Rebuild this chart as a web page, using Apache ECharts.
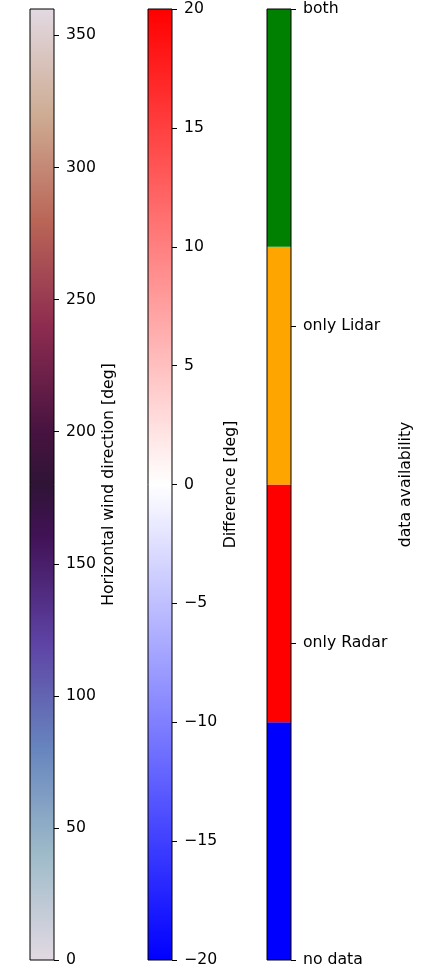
<!DOCTYPE html>
<html>
<head>
<meta charset="utf-8">
<script src="https://cdn.jsdelivr.net/npm/echarts@6/dist/echarts.min.js"></script>
<style>
  html, body { margin: 0; padding: 0; background: #fff; }
  #chart { width: 434px; height: 970px; }
</style>
</head>
<body>
<div id="chart"></div>
<script>
// Wind direction colorbar (twilight colormap), degrees
const dirRange = [0, 360];
const dirTicks = [0, 50, 100, 150, 200, 250, 300, 350];
const dirName = 'Horizontal wind direction [deg]';

// Difference colorbar (bwr colormap), degrees
const diffRange = [-20, 20];
const diffTicks = [-20, -15, -10, -5, 0, 5, 10, 15, 20];
const diffName = 'Difference [deg]';

// Data availability colorbar: discrete classes
const availCategories = ['no data', 'only Radar', 'only Lidar', 'both'];
const availTicks = [0, 1, 2, 3];
const availColors = ['#0000ff', '#ff0000', '#ffa500', '#008000'];
const availBinSize = [0.75, 0.75, 0.75, 0.75];
const availName = 'data availability';

// twilight colormap stops (position 0..1 -> colour)
const twilightStops = [
  [0.000, '#e2d9e2'],
  [0.111, '#9ebbc9'],
  [0.222, '#6785be'],
  [0.333, '#5e43a5'],
  [0.444, '#421257'],
  [0.500, '#2f1436'],
  [0.556, '#471340'],
  [0.667, '#8e2c50'],
  [0.778, '#ba6657'],
  [0.889, '#ceac94'],
  [1.000, '#e2d9e2']
];

const chart = echarts.init(document.getElementById('chart'), null, { renderer: 'canvas' });

const FONT = 'DejaVu Sans';
const labelStyle = { color: '#000', fontSize: 15.7, fontFamily: FONT };

function frameGrid(left) {
  return {
    left: left, width: 24, top: 9, bottom: 10,
    show: true, borderColor: '#000', borderWidth: 1,
    backgroundColor: 'transparent', z: 5
  };
}

function catAxis(idx) {
  return {
    type: 'category', gridIndex: idx, data: ['bar'],
    show: false, boundaryGap: true
  };
}

function valAxis(idx, range, ticks, name, gap, fmt) {
  return {
    type: 'value', gridIndex: idx, position: 'right',
    min: range[0], max: range[1],
    axisLine: { show: false },
    axisTick: { show: true, length: 5, customValues: ticks,
      lineStyle: { color: '#000', width: 1 } },
    axisLabel: Object.assign({ margin: 12, formatter: fmt, customValues: ticks }, labelStyle),
    splitLine: { show: false },
    name: name, nameLocation: 'middle', nameRotate: 90, nameGap: gap,
    nameTextStyle: labelStyle
  };
}

const minusFmt = v => String(v).replace('-', '\u2212');

const series = [];

// twilight gradient bar spanning the full direction range
series.push({
  type: 'bar', xAxisIndex: 0, yAxisIndex: 0, barWidth: '100%',
  silent: true, z: 2,
  data: [dirRange[1] - dirRange[0]],
  itemStyle: {
    color: new echarts.graphic.LinearGradient(0, 1, 0, 0,
      twilightStops.map(s => ({ offset: s[0], color: s[1] })))
  }
});

// bwr: positive half (white -> red) and negative half (white -> blue)
series.push({
  type: 'bar', xAxisIndex: 1, yAxisIndex: 1, barWidth: '100%', barGap: '-100%',
  silent: true, z: 2,
  data: [diffRange[1]],
  itemStyle: {
    color: new echarts.graphic.LinearGradient(0, 1, 0, 0,
      [{ offset: 0, color: '#ffffff' }, { offset: 1, color: '#ff0000' }])
  }
});
series.push({
  type: 'bar', xAxisIndex: 1, yAxisIndex: 1, barWidth: '100%', barGap: '-100%',
  silent: true, z: 2,
  data: [diffRange[0]],
  itemStyle: {
    color: new echarts.graphic.LinearGradient(0, 0, 0, 1,
      [{ offset: 0, color: '#ffffff' }, { offset: 1, color: '#0000ff' }])
  }
});

// discrete availability classes, stacked
availCategories.forEach((c, i) => {
  series.push({
    type: 'bar', name: c, xAxisIndex: 2, yAxisIndex: 2, barWidth: '100%',
    stack: 'avail', silent: true, z: 2,
    data: [availBinSize[i]],
    itemStyle: { color: availColors[i] }
  });
});

chart.setOption({
  animation: false,
  backgroundColor: '#fff',
  textStyle: { fontFamily: FONT },
  grid: [frameGrid(30), frameGrid(148), frameGrid(267)],
  xAxis: [catAxis(0), catAxis(1), catAxis(2)],
  yAxis: [
    valAxis(0, dirRange, dirTicks, dirName, 47, v => String(v)),
    valAxis(1, diffRange, diffTicks, diffName, 51, minusFmt),
    valAxis(2, [availTicks[0], availTicks[availTicks.length - 1]], availTicks, availName, 107,
      v => availCategories[availTicks.indexOf(Math.round(v))])
  ],
  series: series
});
</script>
</body>
</html>
